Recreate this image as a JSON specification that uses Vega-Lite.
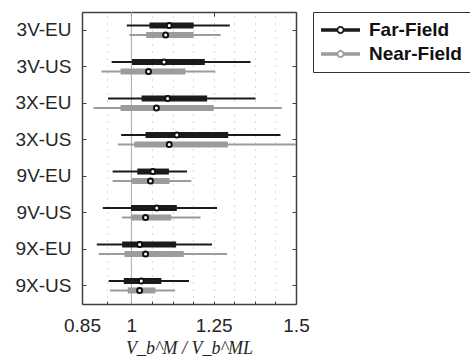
{
  "$schema": "https://vega.github.io/schema/vega-lite/v6.json",
  "width": 214,
  "height": 292,
  "autosize": {"type": "none"},
  "padding": {"left": 82, "top": 12, "right": 174, "bottom": 54},
  "background": "white",
  "config": {
    "view": {"stroke": null},
    "font": "Liberation Sans",
    "axis": {
      "domainColor": "#404040",
      "domainWidth": 1.5,
      "tickColor": "#404040",
      "tickWidth": 1,
      "labelColor": "#262626",
      "labelFont": "Liberation Sans",
      "labelFontSize": 19
    }
  },
  "data": {
    "values": [
      {"cat": "3V-EU", "type": "Far-Field", "lo": 0.986, "q1": 1.055, "med": 1.115, "q3": 1.189, "hi": 1.299},
      {"cat": "3V-US", "type": "Far-Field", "lo": 0.940, "q1": 1.002, "med": 1.099, "q3": 1.223, "hi": 1.362},
      {"cat": "3X-EU", "type": "Far-Field", "lo": 0.929, "q1": 1.031, "med": 1.110, "q3": 1.230, "hi": 1.377},
      {"cat": "3X-US", "type": "Far-Field", "lo": 0.969, "q1": 1.043, "med": 1.138, "q3": 1.294, "hi": 1.453},
      {"cat": "9V-EU", "type": "Far-Field", "lo": 0.943, "q1": 1.018, "med": 1.065, "q3": 1.114, "hi": 1.169},
      {"cat": "9V-US", "type": "Far-Field", "lo": 0.913, "q1": 0.999, "med": 1.077, "q3": 1.138, "hi": 1.260},
      {"cat": "9X-EU", "type": "Far-Field", "lo": 0.895, "q1": 0.972, "med": 1.025, "q3": 1.136, "hi": 1.245},
      {"cat": "9X-US", "type": "Far-Field", "lo": 0.931, "q1": 0.977, "med": 1.030, "q3": 1.091, "hi": 1.175},
      {"cat": "3V-EU", "type": "Near-Field", "lo": 0.994, "q1": 1.045, "med": 1.104, "q3": 1.189, "hi": 1.271},
      {"cat": "3V-US", "type": "Near-Field", "lo": 0.909, "q1": 0.967, "med": 1.052, "q3": 1.164, "hi": 1.255},
      {"cat": "3X-EU", "type": "Near-Field", "lo": 0.885, "q1": 0.967, "med": 1.076, "q3": 1.250, "hi": 1.457},
      {"cat": "3X-US", "type": "Near-Field", "lo": 0.959, "q1": 1.009, "med": 1.115, "q3": 1.293, "hi": 1.530},
      {"cat": "9V-EU", "type": "Near-Field", "lo": 0.943, "q1": 1.002, "med": 1.058, "q3": 1.116, "hi": 1.182},
      {"cat": "9V-US", "type": "Near-Field", "lo": 0.971, "q1": 0.999, "med": 1.043, "q3": 1.121, "hi": 1.210},
      {"cat": "9X-EU", "type": "Near-Field", "lo": 0.901, "q1": 0.979, "med": 1.043, "q3": 1.159, "hi": 1.291},
      {"cat": "9X-US", "type": "Near-Field", "lo": 0.935, "q1": 0.989, "med": 1.025, "q3": 1.073, "hi": 1.133}
    ]
  },
  "layer": [
    {
      "data": {"values": [{"ref": 1}]},
      "mark": {"type": "rule", "color": "#ababab", "strokeWidth": 1},
      "encoding": {
        "x": {"field": "ref", "type": "quantitative", "scale": {"domain": [0.85, 1.5], "nice": false, "zero": false}, "axis": null}
      }
    },
    {
      "mark": {"type": "rule", "strokeWidth": 2, "clip": true},
      "encoding": {
        "y": {
          "field": "cat", "type": "nominal",
          "sort": ["3V-EU", "3V-US", "3X-EU", "3X-US", "9V-EU", "9V-US", "9X-EU", "9X-US"],
          "scale": {"paddingInner": 0, "paddingOuter": 0},
          "axis": {"orient": "left", "title": null, "tickSize": -4, "labelPadding": 15}
        },
        "yOffset": {"field": "type", "type": "nominal", "scale": {"domain": ["Far-Field", "Near-Field"], "paddingInner": 0, "paddingOuter": 0.94}},
        "x": {
          "field": "lo", "type": "quantitative",
          "scale": {"domain": [0.85, 1.5], "nice": false, "zero": false},
          "axis": {
            "orient": "bottom",
            "values": [0.85, 0.925, 1, 1.0625, 1.125, 1.1875, 1.25, 1.3125, 1.375, 1.4375, 1.5],
            "labelExpr": "(datum.value == 0.85 || datum.value == 1 || datum.value == 1.25 || datum.value == 1.5) ? format(datum.value, '~g') : ''",
            "labelFlush": false,
            "labelOverlap": false,
            "labelBound": false,
            "grid": true,
            "gridDash": [1, 6],
            "gridColor": "#b0b0b0",
            "gridWidth": 1,
            "tickSize": -3,
            "labelPadding": 15,
            "title": "V_b^M / V_b^ML",
            "titleFont": "Liberation Serif",
            "titleFontStyle": "italic",
            "titleFontWeight": "normal",
            "titleFontSize": 18,
            "titleColor": "#262626",
            "titlePadding": 4
          }
        },
        "x2": {"field": "hi"},
        "color": {
          "field": "type", "type": "nominal",
          "scale": {"domain": ["Far-Field", "Near-Field"], "range": ["#1a1a1a", "#9c9c9c"]},
          "legend": {
            "orient": "none",
            "legendX": 231,
            "legendY": 0,
            "title": null,
            "padding": 8,
            "strokeColor": "#333333",
            "fillColor": "white",
            "symbolType": "M-1,-0.165H0.62V0.165H-1Z M1.28,-0.165H2.9V0.165H1.28Z M1.35,0A0.4,0.4 0 1,1 0.55,0A0.4,0.4 0 1,1 1.35,0Z M1.17,0A0.22,0.22 0 1,0 0.73,0A0.22,0.22 0 1,0 1.17,0Z",
            "symbolSize": 400,
            "symbolStrokeWidth": 0,
            "labelFont": "Liberation Sans",
            "labelFontSize": 19,
            "labelFontWeight": "bold",
            "labelColor": "#111111",
            "labelOffset": 28,
            "rowPadding": 4,
            "encode": {"symbols": {"update": {"fill": {"scale": "color", "field": "value"}, "stroke": {"value": "transparent"}}}}
          }
        }
      }
    },
    {
      "mark": {"type": "rule", "strokeWidth": 6, "strokeCap": "butt", "clip": true},
      "encoding": {
        "y": {"field": "cat", "type": "nominal", "sort": ["3V-EU", "3V-US", "3X-EU", "3X-US", "9V-EU", "9V-US", "9X-EU", "9X-US"], "axis": null},
        "yOffset": {"field": "type", "type": "nominal"},
        "x": {"field": "q1", "type": "quantitative", "axis": null},
        "x2": {"field": "q3"},
        "color": {"field": "type", "type": "nominal"}
      }
    },
    {
      "mark": {"type": "point", "shape": "circle", "filled": true, "fill": "white", "stroke": "#111111", "strokeWidth": 2, "size": 25, "opacity": 1},
      "encoding": {
        "y": {
          "field": "cat", "type": "nominal",
          "sort": ["3V-EU", "3V-US", "3X-EU", "3X-US", "9V-EU", "9V-US", "9X-EU", "9X-US"],
          "axis": {"orient": "right", "labels": false, "title": null, "tickSize": -4}
        },
        "yOffset": {"field": "type", "type": "nominal"},
        "x": {
          "field": "med", "type": "quantitative",
          "axis": {"orient": "top", "values": [0.85, 1, 1.25, 1.5], "labels": false, "title": null, "grid": false, "tickSize": -4}
        }
      }
    }
  ],
  "resolve": {"axis": {"x": "independent", "y": "independent"}}
}
